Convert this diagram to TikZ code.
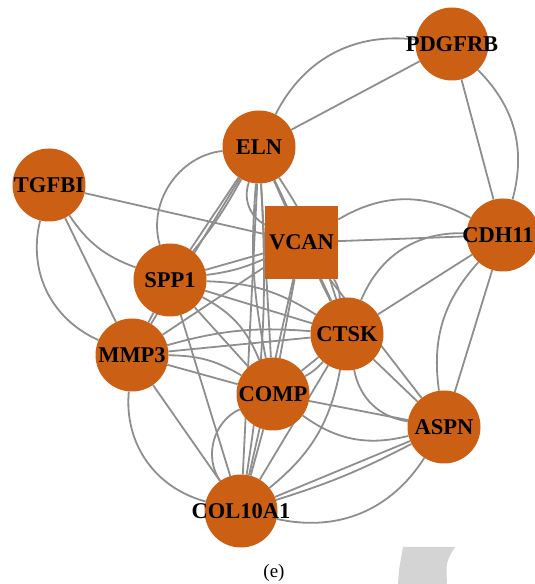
\documentclass[tikz,border=0pt]{standalone}
\usepackage{fontspec}
\setmainfont{Liberation Serif}
\pgfdeclarelayer{bg}
\pgfsetlayers{bg,main}
\definecolor{nodeor}{RGB}{203,95,20}
\definecolor{edgegr}{RGB}{142,142,142}
\definecolor{markgr}{RGB}{212,212,212}
\tikzset{
  gene/.style={circle,fill=nodeor,draw=none,minimum size=73pt,inner sep=0pt},
  hub/.style={rectangle,fill=nodeor,draw=none,minimum size=73pt,inner sep=0pt},
  genetext/.style={font=\fontsize{22.5}{24}\selectfont\bfseries,text=black,inner sep=0pt},
  edge/.style={draw=edgegr,line width=1.8pt}
}
\begin{document}
\begin{tikzpicture}[x=1pt,y=1pt]
\useasboundingbox (0,0) rectangle (535,584);
\clip (0,0) rectangle (535,584);
% nodes
\node[gene] (P) at (452,540) {};
\node[gene] (E) at (259,437) {};
\node[gene] (T) at (49,399) {};
\node[hub]  (V) at (301.5,341.5) {};
\node[gene] (C) at (503,349) {};
\node[gene] (S) at (170,304) {};
\node[gene] (M) at (132,229) {};
\node[gene] (K) at (347,250) {};
\node[gene] (O) at (273,190) {};
\node[gene] (A) at (444,157) {};
\node[gene] (L) at (241,73) {};
% labels
\node[genetext] (Pt) at (P) {PDGFRB};
\node[genetext] (Et) at (E) {ELN};
\node[genetext] (Tt) at (T) {TGFBI};
\node[genetext] (Vt) at (V) {VCAN};
\node[genetext] (Ct) at (498,349) {CDH11};
\node[genetext] (St) at (S) {SPP1};
\node[genetext] (Mt) at (M) {MMP3};
\node[genetext] (Kt) at (K) {CTSK};
\node[genetext] (Ot) at (O) {COMP};
\node[genetext] (At) at (A) {ASPN};
\node[genetext] (Lt) at (L) {COL10A1};
\node[font=\fontsize{19}{21}\selectfont] (cap) at (274,11) {(e)};
% grey mark
\fill[markgr] (403,37) -- (455,37) .. controls (446,22) .. (447,0) -- (398,0) .. controls (399,15) .. (403,37) -- cycle;
% edges
\begin{pgfonlayer}{bg}
\draw[edge] (P) -- (E);
\draw[edge] (E) to[bend left=35] (P);
\draw[edge] (P) -- (C);
\draw[edge] (P) to[bend left=30] (C);
\draw[edge] (T) -- (V);
\draw[edge] (T) to[bend right=18] (S);
\draw[edge] (T) -- (M);
\draw[edge] (T) to[bend right=40] (M);
\draw[edge] (E) to[bend right=50] (S);
\draw[edge] (E) -- (S);
\draw[edge] (E) to[bend left=5] (S);
\draw[edge] (E) -- (M);
\draw[edge] (E) -- (V);
\draw[edge] (E) to[bend right=40] (V);
\draw[edge] (E) -- (K);
\draw[edge] (E) to[bend left=8] (K);
\draw[edge] (E) -- (O);
\draw[edge] (E) to[bend right=8] (O);
\draw[edge] (E) -- (L);
\draw[edge] (E) to[bend left=6] (L);
\draw[edge] (V) -- (C);
\draw[edge] (V) to[bend left=30] (C);
\draw[edge] (V) -- (S);
\draw[edge] (V) to[bend left=8] (S);
\draw[edge] (V) -- (M);
\draw[edge] (V) -- (K);
\draw[edge] (V) to[bend left=15] (K);
\draw[edge] (V) -- (O);
\draw[edge] (V) -- (L);
\draw[edge] (V) -- (A);
\draw[edge] (S) -- (M);
\draw[edge] (S) -- (K);
\draw[edge] (S) to[bend left=15] (K);
\draw[edge] (S) -- (O);
\draw[edge] (S) to[bend left=20] (O);
\draw[edge] (S) -- (L);
\draw[edge] (M) -- (K);
\draw[edge] (M) to[bend left=10] (K);
\draw[edge] (M) -- (O);
\draw[edge] (M) to[bend left=15] (O);
\draw[edge] (M) -- (L);
\draw[edge] (M) to[bend right=40] (L);
\draw[edge] (K) -- (O);
\draw[edge] (K) to[bend left=10] (O);
\draw[edge] (K) -- (A);
\draw[edge] (K) to[bend right=35] (A);
\draw[edge] (K) -- (L);
\draw[edge] (K) to[bend left=20] (L);
\draw[edge] (K) -- (C);
\draw[edge] (K) to[bend left=35] (C);
\draw[edge] (O) -- (A);
\draw[edge] (O) to[bend right=25] (A);
\draw[edge] (O) -- (L);
\draw[edge] (O) to[bend right=50] (L);
\draw[edge] (A) -- (L);
\draw[edge] (A) to[bend left=5] (L);
\draw[edge] (A) to[bend left=35] (L);
\draw[edge] (C) -- (A);
\draw[edge] (C) to[bend right=25] (A);
\end{pgfonlayer}
\end{tikzpicture}
\end{document}
